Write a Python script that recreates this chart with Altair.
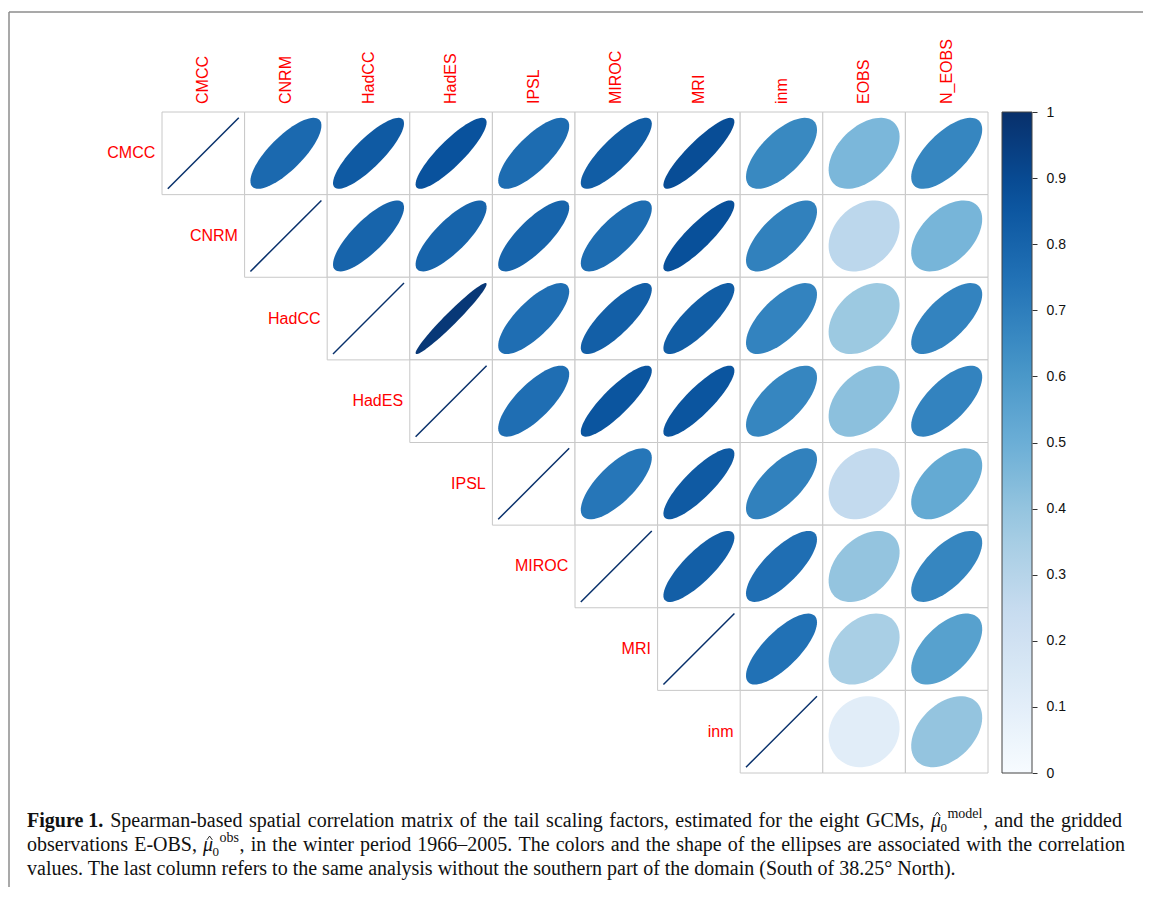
import math
import altair as alt
import pandas as pd

# ---------------- data ----------------
models = ["CMCC", "CNRM", "HadCC", "HadES", "IPSL", "MIROC", "MRI", "inm"]
obs_cols = ["EOBS", "N_EOBS"]
columns = models + obs_cols

# upper-triangle correlations, each row starting right after the diagonal
corr_CMCC = [0.78, 0.84, 0.87, 0.77, 0.83, 0.89, 0.66, 0.46, 0.67]
corr_CNRM = [0.80, 0.80, 0.80, 0.77, 0.88, 0.69, 0.28, 0.47]
corr_HadCC = [0.97, 0.76, 0.82, 0.83, 0.68, 0.38, 0.68]
corr_HadES = [0.76, 0.86, 0.86, 0.67, 0.42, 0.68]
corr_IPSL = [0.73, 0.84, 0.69, 0.26, 0.52]
corr_MIROC = [0.82, 0.76, 0.40, 0.67]
corr_MRI = [0.75, 0.34, 0.56]
corr_inm = [0.11, 0.40]
upper = {"CMCC": corr_CMCC, "CNRM": corr_CNRM, "HadCC": corr_HadCC,
         "HadES": corr_HadES, "IPSL": corr_IPSL, "MIROC": corr_MIROC,
         "MRI": corr_MRI, "inm": corr_inm}

colorbar_ticks = [0, 0.1, 0.2, 0.3, 0.4, 0.5, 0.6, 0.7, 0.8, 0.9, 1.0]
blues_stops = [0, 0.125, 0.25, 0.375, 0.5, 0.625, 0.75, 0.875, 1.0]
blues = ["#F7FBFF", "#DEEBF7", "#C6DBEF", "#9ECAE1", "#6BAED6",
         "#4292C6", "#2171B5", "#08519C", "#08306B"]

caption_bold = "Figure 1."
caption_words1 = ("Spearman-based spatial correlation matrix of the tail scaling factors, "
                  "estimated for the eight GCMs,").split()
caption_words1b = "and the gridded".split()
caption_words2 = "observations E-OBS,".split()
caption_words2b = ("in the winter period 1966\u20132005. The colors and the shape of the ellipses "
                   "are associated with the correlation").split()
caption_line3 = ("values. The last column refers to the same analysis without the southern part "
                 "of the domain (South of 38.25\u00b0 North).")
mu = "\u03bc"
sub0 = "0"
sup_model = "model"
sup_obs = "obs"

recs = []
for i, m in enumerate(models):
    recs.append({"row": m, "col": m, "r": 1.0})
    for j, v in enumerate(upper[m]):
        recs.append({"row": m, "col": columns[i + 1 + j], "r": v})
df = pd.DataFrame(recs)

# ---------------- encodings ----------------
SANS = "Liberation Sans"
SERIF = "Liberation Serif"

X = alt.X("col:N", scale=alt.Scale(domain=columns, paddingInner=0, paddingOuter=0), axis=None)
Y = alt.Y("row:N", scale=alt.Scale(domain=models, paddingInner=0, paddingOuter=0), axis=None)
color_scale = alt.Scale(domain=blues_stops, range=blues, interpolate="rgb")

base = alt.Chart(df)

grid = base.mark_rect(fill="white", stroke="#c8c8c8", strokeWidth=1).encode(x=X, y=Y)

# corrplot ellipse outline (cos(t + h), cos(t - h)), h = acos(r)/2, as an SVG symbol path
N_PTS = 72


def rnd(e):
    return "(round((" + e + ") * 10000) / 10000)"


parts = []
for k in range(N_PTS):
    t = 2 * math.pi * k / N_PTS
    cmd = "M" if k == 0 else "L"
    parts.append("'%s' + %s + ',' + %s" % (
        cmd, rnd("cos(%.6f + datum.h)" % t), rnd("-cos(%.6f - datum.h)" % t)))
path_expr = " + ' ' + ".join(parts) + " + ' Z'"

ellipses = (
    base.transform_filter("datum.r < 0.9999")
    .transform_calculate(h="acos(datum.r) / 2")
    .transform_calculate(path=path_expr)
    .mark_point(filled=True, opacity=1, size=5041, strokeWidth=0)
    .encode(
        x=X, y=Y,
        shape=alt.Shape("path:N", scale=None, legend=None),
        color=alt.Color("r:Q", scale=color_scale, legend=alt.Legend(
            type="gradient", orient="none", legendX=840, legendY=0, direction="vertical",
            gradientLength=661, gradientThickness=30, title=None,
            gradientStrokeColor="#444444", gradientStrokeWidth=1,
            labelOpacity=0, padding=0, offset=0)),
    )
)

diagonal = (
    base.transform_filter("datum.r >= 0.9999")
    .mark_point(filled=False, shape="M -1,1 L 1,-1", size=5041, strokeWidth=1.5, opacity=1,
                color=blues[-1])
    .encode(x=X, y=Y)
)

row_labels = (
    alt.Chart(pd.DataFrame({"row": models}))
    .mark_text(align="right", baseline="middle", dx=-48, fontSize=16, font=SANS, color="#ff0000")
    .encode(x=alt.X("row:N", scale=alt.Scale(domain=columns, paddingInner=0, paddingOuter=0), axis=None),
            y=Y, text="row:N")
)

col_labels = (
    alt.Chart(pd.DataFrame({"col": columns}))
    .mark_text(angle=270, align="left", baseline="middle", fontSize=16, font=SANS, color="#ff0000")
    .encode(x=X, y=alt.value(-8), text="col:N")
)

cbar_axis = (
    alt.Chart(pd.DataFrame({"v": colorbar_ticks}))
    .mark_point(opacity=0)
    .encode(y=alt.Y("v:Q", scale=alt.Scale(domain=[0, 1]), axis=alt.Axis(
        orient="right", offset=44, values=colorbar_ticks, format=".1~f",
        tickSize=5, tickColor="#333333", tickWidth=1, domain=False, grid=False,
        labelFontSize=14, labelFont=SANS, labelColor="#111111", labelPadding=9,
        labelFlush=False, title=None)))
)

# ---------------- caption layout (justified, Times-metric advance widths) ----------------
one = pd.DataFrame({"k": [0]})
OX, OY = 162, 112   # page position of the plot origin
FS = 20

TIMES = {" ": 250, ",": 250, ".": 250, "-": 333, "(": 333, ")": 333, "\u2013": 500, "\u00b0": 400,
         "A": 722, "B": 667, "C": 667, "D": 722, "E": 611, "F": 556, "G": 722, "H": 722, "I": 333,
         "J": 389, "K": 722, "L": 611, "M": 889, "N": 722, "O": 722, "P": 556, "Q": 722, "R": 667,
         "S": 556, "T": 611, "U": 722, "V": 722, "W": 944, "X": 722, "Y": 722, "Z": 611,
         "a": 444, "b": 500, "c": 444, "d": 500, "e": 444, "f": 333, "g": 500, "h": 500, "i": 278,
         "j": 278, "k": 500, "l": 278, "m": 778, "n": 500, "o": 500, "p": 500, "q": 500, "r": 333,
         "s": 389, "t": 278, "u": 500, "v": 500, "w": 722, "x": 500, "y": 500, "z": 444}
TIMES_BOLD = {"F": 611, "i": 278, "g": 500, "u": 556, "r": 444, "e": 444, " ": 250, ".": 250}


def tw(s, size, bold=False):
    tbl = TIMES_BOLD if bold else TIMES
    return sum(tbl.get(c, TIMES.get(c, 500)) for c in s) * size / 1000.0


def txt(s, x, y, size=FS, weight="normal", style="normal", align="left"):
    return alt.Chart(one).mark_text(
        text=s, align=align, baseline="alphabetic", font=SERIF,
        fontSize=size, fontWeight=weight, fontStyle=style, color="#111111"
    ).encode(x=alt.value(x - OX), y=alt.value(y - OY))


def hat_mark(x, y):
    return alt.Chart(one).mark_point(
        shape="M -1,0.7 L 0,-0.7 L 1,0.7", filled=False, size=30, strokeWidth=0.9,
        color="#111111", opacity=1
    ).encode(x=alt.value(x - OX), y=alt.value(y - OY))


def layout_line(tokens, x0, x1, y):
    """tokens: list of (kind, text, space_before). Justify between x0 and x1."""
    widths = []
    for kind, s, sp in tokens:
        if kind == "bold":
            widths.append(tw(s, FS, bold=True))
        elif kind == "math":
            widths.append(10 + 6.5 + 0.5 + tw(s, 14))
        else:
            widths.append(tw(s, FS))
    n_space = sum(1 for _, _, sp in tokens if sp)
    natural = sum(widths) + n_space * tw(" ", FS)
    gap = tw(" ", FS) + (x1 - x0 - natural) / n_space
    layers = []
    x = x0
    for (kind, s, sp), w in zip(tokens, widths):
        if sp:
            x += gap
        if kind == "bold":
            layers.append(txt(s, x, y, weight="bold"))
        elif kind == "math":
            layers.append(txt(mu, x, y, style="italic"))
            layers.append(hat_mark(x + 6.5, y - 13))
            layers.append(txt(sub0, x + 9.5, y + 5, size=13))
            layers.append(txt(s, x + 16.5, y - 9, size=14))
        else:
            layers.append(txt(s, x, y))
        x += w
    return layers


L1, L2, L3 = 827, 851, 875
tok1 = [("bold", caption_bold, False)]
tok1 += [("text", w, True) for w in caption_words1]
tok1 += [("math", sup_model, True), ("text", ",", False)]
tok1 += [("text", w, True) for w in caption_words1b]

tok2 = [("text", caption_words2[0], False)]
tok2 += [("text", w, True) for w in caption_words2[1:]]
tok2 += [("math", sup_obs, True), ("text", ",", False)]
tok2 += [("text", w, True) for w in caption_words2b]

caption = layout_line(tok1, 27, 1122, L1) + layout_line(tok2, 27, 1125, L2)
caption.append(txt(caption_line3, 27, L3))

frame_top = alt.Chart(one).mark_rule(color="#8c8c8c", strokeWidth=1.5).encode(
    x=alt.value(9 - OX), x2=alt.value(1160 - OX), y=alt.value(12 - OY))
frame_left = alt.Chart(one).mark_rule(color="#8c8c8c", strokeWidth=1.5).encode(
    x=alt.value(9 - OX), y=alt.value(12 - OY), y2=alt.value(910 - OY))

chart = alt.layer(
    frame_top, frame_left, grid, ellipses, diagonal, row_labels, col_labels, cbar_axis, *caption
).resolve_scale(y="independent").properties(
    width=826, height=661,
    autosize=alt.AutoSizeParams(type="none"),
    padding={"left": 154, "top": 104, "right": 155, "bottom": 114},
).configure_view(stroke=None)

chart.save("out.html", embed_options={"renderer": "svg", "actions": False})
